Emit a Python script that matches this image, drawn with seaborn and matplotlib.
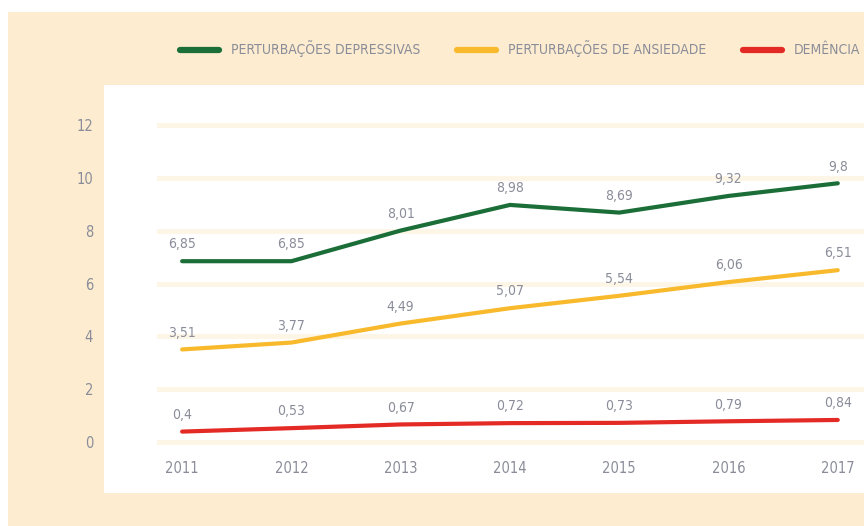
import numpy as np
import pandas as pd
import matplotlib.pyplot as plt
import matplotlib.patches as mpatches
import seaborn as sns

# %% data
years = [2011, 2012, 2013, 2014, 2015, 2016, 2017]
depressivas = [6.85, 6.85, 8.01, 8.98, 8.69, 9.32, 9.8]
ansiedade = [3.51, 3.77, 4.49, 5.07, 5.54, 6.06, 6.51]
demencia = [0.4, 0.53, 0.67, 0.72, 0.73, 0.79, 0.84]
series_names = ['PERTURBAÇÕES DEPRESSIVAS', 'PERTURBAÇÕES DE ANSIEDADE', 'DEMÊNCIA']
colors = ['#1b6e38', '#f8b92c', '#e42a24']
y_ticks = [0, 2, 4, 6, 8, 10, 12]

df = pd.DataFrame({
    'ano': years * 3,
    'valor': depressivas + ansiedade + demencia,
    'serie': np.repeat(series_names, len(years)),
})

# %% style
sns.set_style('white')
plt.rcParams['font.family'] = ['DejaVu Sans']
plt.rcParams['font.stretch'] = 'condensed'
cream = '#fdecd0'
grid_c = '#fdf5e6'
txt_c = '#8a8d99'

fig = plt.figure(figsize=(8.64, 5.26), dpi=100)
fig.patch.set_facecolor('white')
fig.patches.append(mpatches.Rectangle((8 / 864, 0), 1, 1 - 12 / 526, transform=fig.transFigure,
                                      facecolor=cream, edgecolor='none', zorder=-10))
fig.patches.append(mpatches.Rectangle((104 / 864, 1 - 493 / 526), 1, (493 - 85) / 526, transform=fig.transFigure,
                                      facecolor='white', edgecolor='none', zorder=-9))

ax = fig.add_axes([157 / 864, 1 - 458 / 526, 1 - 157 / 864, (458 - 85) / 526])
ax.set_facecolor('none')

sns.lineplot(data=df, x='ano', y='valor', hue='serie', palette=colors, linewidth=3,
             ax=ax, solid_capstyle='round')

# value labels
for vals in [depressivas, ansiedade, demencia]:
    for x, v in zip(years, vals):
        ax.annotate(f'{v:g}'.replace('.', ','), (x, v), xytext=(0, 7), textcoords='offset points',
                    ha='center', va='bottom', fontsize=10, color=txt_c)

ax.set_xlim(2010.77, 2017.24)
ax.set_ylim(-0.6, 13.52)
ax.set_xticks(years)
ax.set_yticks(y_ticks)
ax.set_xlabel('')
ax.set_ylabel('')
ax.grid(axis='y', color=grid_c, linewidth=3.6)
ax.grid(axis='x', visible=False)
ax.tick_params(axis='x', length=0, pad=2, labelsize=10.5, labelcolor=txt_c)
ax.tick_params(axis='y', length=0, pad=46, labelsize=10.5, labelcolor=txt_c)
sns.despine(ax=ax, left=True, bottom=True)

sns.move_legend(ax, loc='center left', bbox_to_anchor=(180 / 864, 1 - 49 / 526), bbox_transform=fig.transFigure,
                ncol=3, frameon=False, title=None, fontsize=10, handlelength=2.8,
                handletextpad=0.9, columnspacing=2.6, borderaxespad=0, borderpad=0)
leg = ax.get_legend()
for h in leg.get_lines():
    h.set_linewidth(4.5)
    h.set_solid_capstyle('round')
for t in leg.get_texts():
    t.set_color(txt_c)

plt.savefig('out.png', dpi=100, facecolor=fig.get_facecolor())
